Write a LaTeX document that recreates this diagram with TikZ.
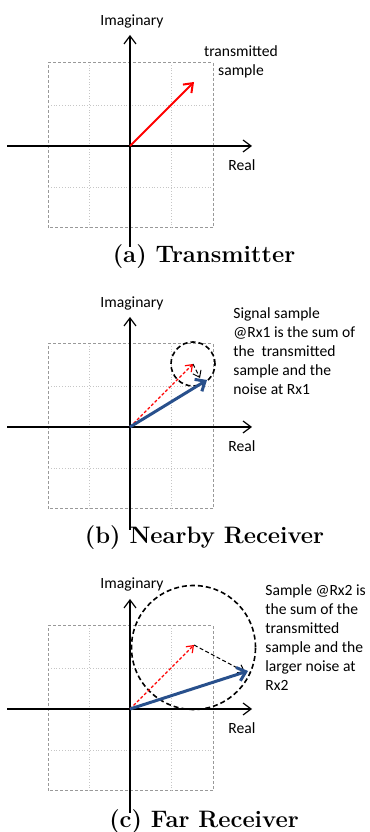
\documentclass[tikz,border=0pt]{standalone}
\usepackage{fontspec}
\usepackage{tikz}
\usetikzlibrary{arrows.meta,positioning}
\newfontfamily\lblfont{Carlito}
\newcommand{\lbl}{\lblfont\fontsize{7.8}{9.5}\selectfont}
\newcommand{\capfont}{\fontsize{11.9}{14}\selectfont\bfseries}
\definecolor{sigblue}{RGB}{40,80,140}

\begin{document}
\begin{tikzpicture}[x=0.5pt, y=0.5pt,
    every node/.style={font=\lbl, inner sep=0pt},
    axis/.style={-{Straight Barb[length=4pt,width=6pt]}, line width=0.6pt},
    gridbox/.style={gray!80, dashed, dash pattern=on 1.5pt off 1pt, line width=0.5pt},
    gridline/.style={gray!45, densely dotted, line width=0.4pt},
    txarrow/.style={red, line width=1pt, -{Straight Barb[length=4pt,width=6pt]}},
    txdash/.style={red, dashed, dash pattern=on 1.5pt off 1pt, line width=0.6pt, -{Straight Barb[length=3pt,width=4.5pt]}},
    rxarrow/.style={sigblue, line width=1.5pt, -{Straight Barb[length=4pt,width=7pt]}},
    noise/.style={black, dashed, dash pattern=on 2pt off 1.2pt, line width=0.5pt, -{Straight Barb[length=3pt,width=4.5pt]}},
    noisecircle/.style={black, dash pattern=on 2.5pt off 1.5pt, line width=0.8pt},
    caption/.style={font=\capfont}]

    \useasboundingbox (0,0) rectangle (370,832);

    % (a) Transmitter
    \begin{scope}[shift={(130,686)}]
    \draw[gridbox] (-82,-82) rectangle (83,83);
    \foreach \g in {-41,41} {
        \draw[gridline] (\g,-82) -- (\g,83);
        \draw[gridline] (-82,\g) -- (83,\g);
    }
    \coordinate (oa) at (0,0);
    \coordinate (xla) at (-123,0);
    \coordinate (xra) at (122,0);
    \coordinate (yba) at (0,-101);
    \coordinate (yta) at (0,111);
    \coordinate (ta) at (64,64);
    \draw[axis] (xla) -- (xra);
    \draw[axis] (yba) -- (yta);
    \draw[txarrow] (oa) -- (ta);
    \node (ima) at (2,125) {Imaginary};
    \node (rea) at (112,-19) {Real};
    \node[align=center] (txa) at (111,84) {transmitted\\sample};
    \node[caption] (capa) at (74,-111) {(a) Transmitter};
    \end{scope}

    % (b) Nearby Receiver
    \begin{scope}[shift={(130,405)}]
    \draw[gridbox] (-82,-82) rectangle (83,83);
    \foreach \g in {-41,41} {
        \draw[gridline] (\g,-82) -- (\g,83);
        \draw[gridline] (-82,\g) -- (83,\g);
    }
    \coordinate (ob) at (0,0);
    \coordinate (xlb) at (-123,0);
    \coordinate (xrb) at (122,0);
    \coordinate (ybb) at (0,-103);
    \coordinate (ytb) at (0,110);
    \coordinate (tb) at (63,63);
    \coordinate (nb) at (70,49);
    \coordinate (rb) at (77,47);
    \draw[axis] (xlb) -- (xrb);
    \draw[axis] (ybb) -- (ytb);
    \draw[noisecircle] (tb) circle[radius=22];
    \draw[txdash] (ob) -- (tb);
    \draw[noise] (tb) -- (nb);
    \draw[rxarrow] (ob) -- (rb);
    \node (imb) at (2,124) {Imaginary};
    \node (reb) at (112,-19) {Real};
    \node[align=left, anchor=west] (txb) at (103,75.5) {Signal sample\\@Rx1 is the sum of\\the\ \ transmitted\\sample and the\\noise at Rx1};
    \node[caption] (capb) at (74.5,-111) {(b) Nearby Receiver};
    \end{scope}

    % (c) Far Receiver
    \begin{scope}[shift={(130,123)}]
    \draw[gridbox] (-82,-82) rectangle (83,83);
    \foreach \g in {-41,41} {
        \draw[gridline] (\g,-82) -- (\g,83);
        \draw[gridline] (-82,\g) -- (83,\g);
    }
    \coordinate (oc) at (0,0);
    \coordinate (xlc) at (-123,0);
    \coordinate (xrc) at (122,0);
    \coordinate (ybc) at (0,-104);
    \coordinate (ytc) at (0,110);
    \coordinate (tc) at (64,64);
    \coordinate (nc) at (115,37);
    \coordinate (rc) at (118,38);
    \draw[axis] (xlc) -- (xrc);
    \draw[axis] (ybc) -- (ytc);
    \draw[noisecircle] (63.5,61.5) circle[radius=62];
    \draw[txdash] (oc) -- (tc);
    \draw[noise] (tc) -- (nc);
    \draw[rxarrow] (oc) -- (rc);
    \node (imc) at (2,125) {Imaginary};
    \node (rec) at (112,-19) {Real};
    \node[align=left, anchor=west] (txc) at (135,71.5) {Sample @Rx2 is\\the sum of the\\transmitted\\sample and the\\larger noise at\\Rx2};
    \node[caption] (capc) at (74,-113) {(c) Far Receiver};
    \end{scope}
\end{tikzpicture}
\end{document}
